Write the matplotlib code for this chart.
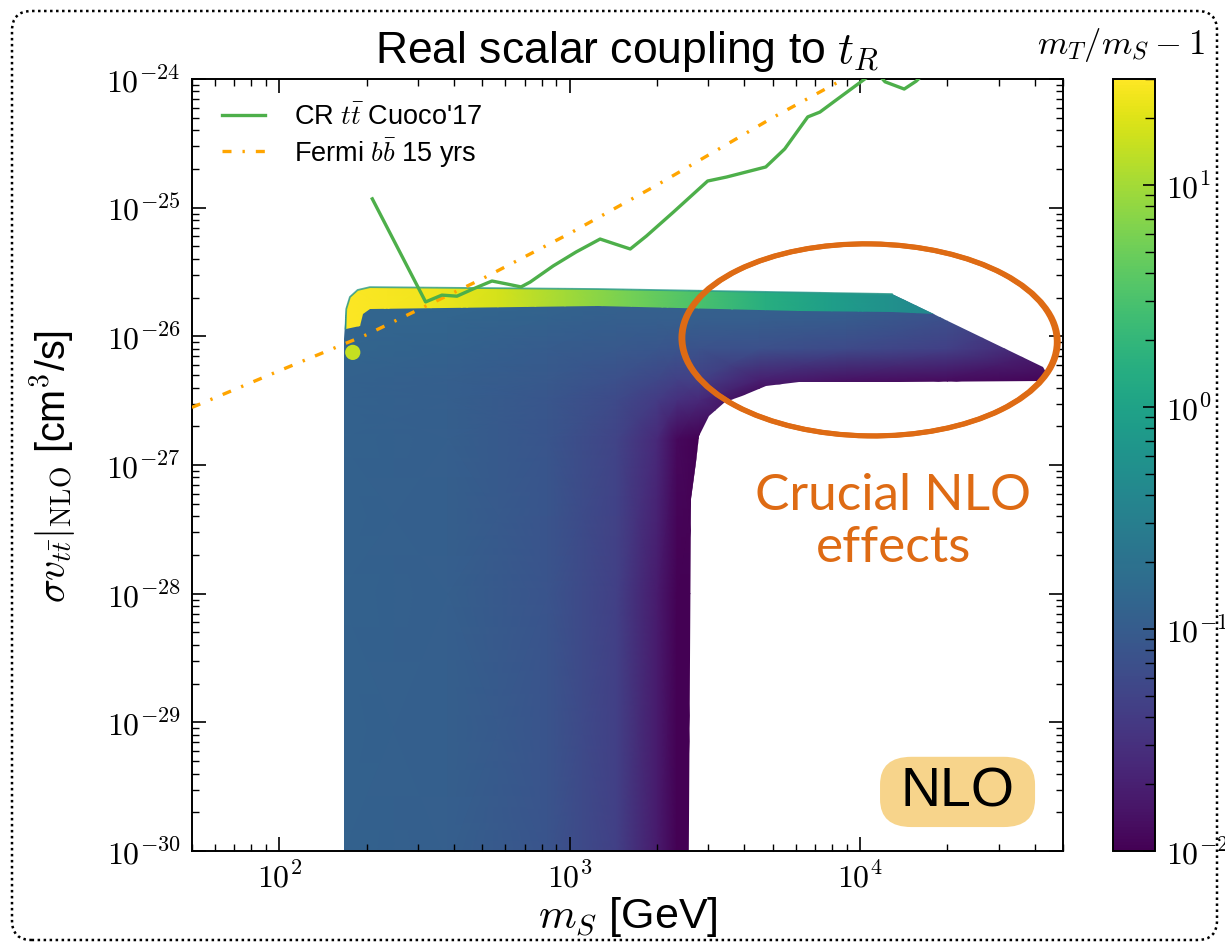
import numpy as np
import matplotlib
matplotlib.use("Agg")
import matplotlib.pyplot as plt
from matplotlib.colors import LogNorm
from matplotlib.patches import Polygon, Ellipse, FancyBboxPatch
from matplotlib.ticker import FuncFormatter, NullFormatter

plt.rcParams['font.family'] = ['Liberation Sans', 'DejaVu Sans']
plt.rcParams['mathtext.fontset'] = 'cm'

# --- data -------------------------------------------------------------------
# CR ttbar limit (Cuoco'17)
cr_ms = [209, 319, 363, 409, 464, 540, 608, 680, 731, 877, 1052, 1273, 1435,
         1617, 1837, 2279, 2987, 3473, 4736, 5505, 6607, 7278, 8199, 9533,
         11300, 12200, 14200, 15600, 17300]
cr_sv = [1.17e-25, 1.85e-26, 2.09e-26, 2.05e-26, 2.33e-26, 2.69e-26, 2.55e-26,
         2.42e-26, 2.64e-26, 3.52e-26, 4.52e-26, 5.70e-26, 5.21e-26, 4.77e-26,
         6.01e-26, 9.25e-26, 1.61e-25, 1.73e-25, 2.07e-25, 2.86e-25, 5.07e-25,
         5.53e-25, 6.75e-25, 8.67e-25, 1.15e-24, 9.5e-25, 8.35e-25, 9.6e-25,
         1.2e-24]

# Fermi bbbar 15 yrs projection
fermi_ms = [50, 100, 200, 500, 1000, 2000, 5000, 10000]
fermi_sv = [2.8e-27, 5.4e-27, 1.03e-26, 2.8e-26, 6.3e-26, 1.5e-25, 5.0e-25, 1.17e-24]

# outline of the scanned (m_S, sigma v) region
region_ms = [167, 167, 170, 175, 186, 205, 1254, 12900, 42600, 43900, 42600,
             13600, 6150, 4730, 3910, 3440, 3010, 2780, 2715, 2610, 2565]
region_sv = [1e-31, 9.5e-27, 1.63e-26, 2.02e-26, 2.29e-26, 2.41e-26, 2.33e-26,
             2.13e-26, 5.75e-27, 5.08e-27, 4.48e-27, 4.41e-27, 4.41e-27, 4.1e-27,
             3.43e-27, 3.08e-27, 2.39e-27, 1.67e-27, 1.05e-27, 5.4e-28, 1e-31]

# m_T/m_S - 1 over the region (rows: sv_nodes, cols: ms_nodes)
ms_nodes = [160, 380, 840, 1450, 2000, 2350, 2800, 4500, 9000, 20000, 45000]
sv_nodes = [8e-31, 1e-28, 1.6e-27, 3.2e-27, 4.6e-27, 8e-27, 1.4e-26, 2.2e-26]
r_table = [
    [0.12, 0.110, 0.080, 0.045, 0.018, 0.010, 0.010, 0.010, 0.010, 0.010, 0.010],
    [0.12, 0.110, 0.080, 0.045, 0.018, 0.010, 0.010, 0.010, 0.010, 0.010, 0.010],
    [0.12, 0.110, 0.082, 0.050, 0.025, 0.012, 0.010, 0.010, 0.010, 0.010, 0.010],
    [0.12, 0.110, 0.085, 0.060, 0.040, 0.030, 0.025, 0.010, 0.010, 0.010, 0.010],
    [0.12, 0.110, 0.090, 0.070, 0.055, 0.045, 0.045, 0.020, 0.015, 0.013, 0.011],
    [0.13, 0.120, 0.100, 0.090, 0.085, 0.080, 0.075, 0.070, 0.060, 0.045, 0.020],
    [0.13, 0.130, 0.120, 0.110, 0.110, 0.110, 0.110, 0.110, 0.100, 0.070, 0.030],
    [0.14, 0.140, 0.130, 0.120, 0.120, 0.120, 0.120, 0.120, 0.110, 0.080, 0.040],
]

# thermal band on top (large mass splitting)
band_outline_ms = [169, 170, 175, 186, 205, 1254, 12900, 18000, 12900, 6150,
                   1254, 205, 194, 189]
band_outline_sv = [1.14e-26, 1.63e-26, 2.02e-26, 2.29e-26, 2.41e-26, 2.33e-26,
                   2.13e-26, 1.49e-26, 1.54e-26, 1.57e-26, 1.72e-26, 1.63e-26,
                   1.49e-26, 1.2e-26]
band_ms = [165, 333, 566, 964, 1630, 2780, 4730, 8000, 12600, 18500]
band_sv = [1.0e-26, 2.6e-26]
band_r = [30, 25, 18, 10, 5.5, 3.0, 1.5, 0.85, 0.55, 0.4]

# isolated point near threshold
blob_ms = [179]
blob_sv = [7.5e-27]
blob_r = [15]

# --- figure -----------------------------------------------------------------
fig = plt.figure(figsize=(12.25, 9.53), dpi=100)
ax = fig.add_axes([0.1567, 0.106, 0.7110, 0.8101])
cax = fig.add_axes([0.9086, 0.106, 0.0343, 0.8101])

norm = LogNorm(vmin=0.01, vmax=30)
ax.set_xscale('log')
ax.set_yscale('log')
ax.set_xlim(50, 5e4)
ax.set_ylim(1e-30, 1e-24)

mesh = ax.pcolormesh(ms_nodes, sv_nodes, np.array(r_table), cmap='viridis',
                     norm=norm, shading='gouraud', zorder=1)
region = Polygon(np.column_stack([region_ms, region_sv]), closed=True,
                 facecolor='none', edgecolor='none', transform=ax.transData)
ax.add_patch(region)
mesh.set_clip_path(region)

band = ax.pcolormesh(band_ms, band_sv, np.array([band_r, band_r]), cmap='viridis',
                     norm=norm, shading='gouraud', zorder=2)
band_poly = Polygon(np.column_stack([band_outline_ms, band_outline_sv]), closed=True,
                    facecolor='none', edgecolor='none', transform=ax.transData)
ax.add_patch(band_poly)
band.set_clip_path(band_poly)
# thin rim of lower-r points along the top of the band
ax.plot(band_outline_ms[:7], band_outline_sv[:7], color='#2a9a8a', lw=1.3,
        alpha=0.8, solid_capstyle='round', zorder=2)

ax.scatter(blob_ms, blob_sv, c=blob_r, cmap='viridis', norm=norm, s=120,
           edgecolors='none', zorder=2)

ax.plot(cr_ms, cr_sv, color='#4daf4a', lw=2.4, label=r"CR $t\bar{t}$ Cuoco'17", zorder=4)
ax.plot(fermi_ms, fermi_sv, color='#ffa500', lw=2.4, dashes=(2.7, 3.3, 0.7, 3.3),
        label=r"Fermi $b\bar{b}$ 15 yrs", zorder=3)

leg = ax.legend(loc='upper left', bbox_to_anchor=(0.022, 0.982), frameon=False,
                borderaxespad=0, fontsize=19.5, handlelength=1.6,
                handletextpad=1.05, labelspacing=0.2)

sci = FuncFormatter(lambda v, p: r'$10^{%d}$' % int(round(np.log10(v))))
ax.xaxis.set_major_formatter(sci)
ax.yaxis.set_major_formatter(sci)
ax.xaxis.set_minor_formatter(NullFormatter())
ax.yaxis.set_minor_formatter(NullFormatter())
ax.tick_params(which='both', direction='in', top=True, right=True, labelsize=23)
ax.tick_params(which='major', length=10, width=1.2, pad=8)
ax.tick_params(which='minor', length=5, width=1.0)
for s in ax.spines.values():
    s.set_linewidth(1.4)

ax.set_title(r'Real scalar coupling to $t_R$', fontsize=32, pad=12.5)
ax.set_xlabel(r'$m_S$ [GeV]', fontsize=31, labelpad=0)
ax.set_ylabel(r'$\sigma v_{t\bar{t}}|_{\rm NLO}$ [cm$^3$/s]', fontsize=28.5, labelpad=20)

# colorbar
cb = fig.colorbar(mesh, cax=cax)
cb.outline.set_linewidth(1.4)
cax.yaxis.set_major_formatter(sci)
cax.yaxis.set_minor_formatter(NullFormatter())
cax.tick_params(which='both', direction='in', labelsize=23, pad=8)
cax.tick_params(which='major', length=9, width=1.2)
cax.tick_params(which='minor', length=7, width=1.0)
fig.text(1121 / 1225, 1 - 45 / 953, r'$m_T/m_S - 1$', fontsize=25, ha='center', va='center')

# annotations
orange = '#de6b14'
for dw, dh, lw in [(0.0, 0.0, 3.5), (0.006, 0.004, 1.5), (-0.005, -0.004, 1.5)]:
    ax.add_patch(Ellipse((0.778, 0.662), 0.4305 + dw, 0.2487 + dh, angle=-1,
                         transform=ax.transAxes, fill=False, ec=orange, lw=lw, zorder=5))
ax.text(0.805, 0.4275, 'Crucial NLO\neffects', transform=ax.transAxes, color=orange,
        fontsize=37, family=['Lato', 'DejaVu Sans'], ha='center', va='center',
        linespacing=1.15, zorder=5)

ax.add_patch(FancyBboxPatch((0.790, 0.031), 0.178, 0.091,
                            boxstyle='round,pad=0,rounding_size=0.036',
                            transform=ax.transAxes, fc='#f7d48b', ec='none', zorder=5))
ax.text(0.879, 0.0765, 'NLO', transform=ax.transAxes, fontsize=40, ha='center',
        va='center', zorder=6)

# dotted frame round the whole figure
fig.patches.append(FancyBboxPatch((12 / 1225, 12 / 953), 1205 / 1225, 929 / 953,
                                  boxstyle='round,pad=0,rounding_size=0.016',
                                  mutation_aspect=1.285, transform=fig.transFigure,
                                  fill=False, ec='black', lw=1.8, ls=(0, (1, 1.4))))

fig.savefig('out.png', dpi=100)
